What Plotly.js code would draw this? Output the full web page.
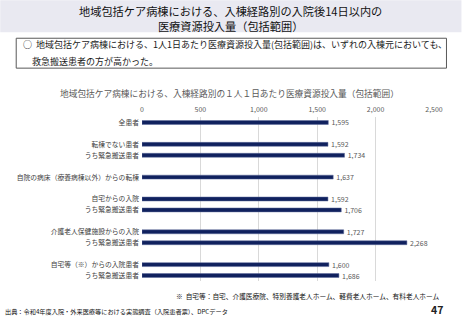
<!DOCTYPE html>
<html><head><meta charset="utf-8">
<script src="https://cdn.plot.ly/plotly-3.0.1.min.js"></script>
<style>html,body{margin:0;padding:0;background:#fff;}#chart{width:462px;height:320px;}</style>
</head><body><div id="chart"></div>
<script>
// Data (groups separated by blank rows in the chart)
const groupLabels = [
  ['全患者'],
  ['転棟でない患者', 'うち緊急搬送患者'],
  ['自院の病床（療養病棟以外）からの転棟'],
  ['自宅からの入院', 'うち緊急搬送患者'],
  ['介護老人保健施設からの入院', 'うち緊急搬送患者'],
  ['自宅等（※）からの入院患者', 'うち緊急搬送患者']
];
const groupValues = [
  [1595],
  [1592, 1734],
  [1637],
  [1592, 1706],
  [1727, 2268],
  [1600, 1686]
];
const xTicks = [0, 500, 1000, 1500, 2000, 2500];
const mainTitle1 = '地域包括ケア病棟における、入棟経路別の入院後14日以内の';
const mainTitle2 = '医療資源投入量（包括範囲）';
const summary1 = '○  地域包括ケア病棟における、1人1日あたり医療資源投入量(包括範囲)は、いずれの入棟元においても、';
const summary2 = '救急搬送患者の方が高かった。';
const chartTitle = '地域包括ケア病棟における、入棟経路別の１人１日あたり医療資源投入量（包括範囲）';
const footnote = '※  自宅等：自宅、介護医療院、特別養護老人ホーム、軽費老人ホーム、有料老人ホーム';
const source = '出典：令和4年度入院・外来医療等における実態調査（入院患者票）、DPCデータ';
const pageNo = '47';

// Build rows with spacer rows between groups
const yIdx = [], xs = [], tickvals = [], ticktext = [];
let row = 0;
groupLabels.forEach((g, gi) => {
  if (gi > 0) row++;
  g.forEach((lab, i) => {
    yIdx.push(row); xs.push(groupValues[gi][i]);
    tickvals.push(row); ticktext.push(lab);
    row++;
  });
});
const nRows = row;

const W = 462, H = 320;
const L = 142, R = 434.5, T = 117, B = 281.5;
const PW = R - L, PH = B - T;
const px = v => (v - L) / PW;
const py = v => (B - v) / PH;
const FONT = '"Noto Sans CJK JP", "Noto Sans", sans-serif';

const trace = {
  type: 'bar', orientation: 'h',
  x: xs, y: yIdx,
  width: 0.36,
  marker: {color: '#10215e', line: {color: '#5d6a9a', width: 0.5}},
  text: xs.map(v => '\u00a0\u00a0' + v.toLocaleString('en-US')),
  textposition: 'outside',
  constraintext: 'none',
  textfont: {family: FONT, size: 7, color: '#595959'},
  cliponaxis: false,
  hoverinfo: 'none'
};

function ann(text, x, y, size, opts) {
  return Object.assign({
    text: text, xref: 'paper', yref: 'paper', x: px(x), y: py(y),
    xanchor: 'center', yanchor: 'middle', showarrow: false,
    font: {family: FONT, size: size, color: '#1a1a1a'}
  }, opts || {});
}

const layout = {
  width: W, height: H,
  margin: {l: L, r: W - R, t: T, b: H - B, pad: 0},
  paper_bgcolor: '#fff', plot_bgcolor: '#fff',
  showlegend: false,
  font: {family: FONT},
  xaxis: {
    side: 'top', range: [0, 2500], tickvals: xTicks,
    ticktext: xTicks.map(v => v.toLocaleString('en-US')),
    showgrid: true, gridcolor: '#d9d9d9', gridwidth: 1,
    zeroline: false, showline: false, ticks: '',
    tickfont: {family: FONT, size: 7, color: '#595959'},
    ticklabelstandoff: 3, fixedrange: true
  },
  yaxis: {
    range: [nRows - 0.5, -0.5], tickvals: tickvals, ticktext: ticktext,
    showgrid: false, zeroline: false, showline: false, ticks: '',
    tickfont: {family: FONT, size: 6.8, color: '#404040'},
    ticklabelstandoff: 2, fixedrange: true
  },
  shapes: [
    {type: 'rect', xref: 'paper', yref: 'paper', x0: px(0), x1: px(W), y0: py(0), y1: py(32),
     fillcolor: '#e9e9f1', line: {width: 0}, layer: 'below'},
    {type: 'rect', xref: 'paper', yref: 'paper', x0: px(16), x1: px(447), y0: py(38), y1: py(68),
     fillcolor: 'rgba(0,0,0,0)', line: {color: '#595959', width: 1}}
  ],
  annotations: [
    ann(mainTitle1 + '<br>' + mainTitle2, 231, 18.2, 11.2, {font: {family: FONT, size: 11.2, color: '#111'}}),
    ann(summary1, 21, 44.5, 9, {xanchor: 'left'}),
    ann(summary2, 30, 61, 9, {xanchor: 'left'}),
    ann(chartTitle, 230, 93, 8.7, {font: {family: FONT, size: 8.7, color: '#595959'}}),
    ann(footnote, 443, 296.5, 6.7, {xanchor: 'right', font: {family: FONT, size: 6.7, color: '#111'}}),
    ann(source, 3, 312, 6.2, {xanchor: 'left', font: {family: FONT, size: 6.2, color: '#111'}}),
    ann('<b>' + pageNo + '</b>', 446, 310, 10.5, {xanchor: 'right', font: {family: FONT, size: 10.5, color: '#222'}})
  ]
};

Plotly.newPlot('chart', [trace], layout, {staticPlot: true, displayModeBar: false});
</script>
</body></html>
